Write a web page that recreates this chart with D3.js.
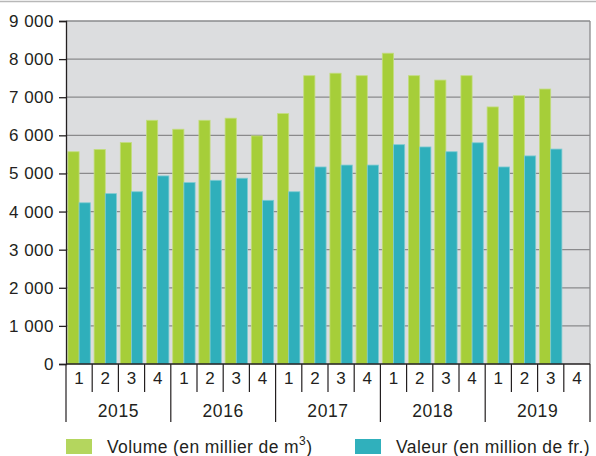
<!DOCTYPE html>
<html>
<head>
<meta charset="utf-8">
<script src="https://cdn.jsdelivr.net/npm/d3@7"></script>
<style>
  body { margin: 0; background: #fff; }
  text { font-family: "Liberation Sans", Arial, sans-serif; fill: #231f20; }
</style>
</head>
<body>
<svg id="chart"></svg>
<script>
const width = 596;
const height = 456;

const years = ['2015', '2016', '2017', '2018', '2019'];
const quarters = ['1', '2', '3', '4'];
const volume = [5570, 5630, 5810, 6395, 6160, 6395, 6450, 5985, 6570, 7565,
                7630, 7565, 8155, 7565, 7450, 7565, 6745, 7040, 7215, null];
const valeur = [4230, 4470, 4520, 4935, 4760, 4820, 4875, 4295, 4520, 5170,
                5220, 5220, 5755, 5695, 5570, 5805, 5170, 5460, 5640, null];
const yTicks = [0, 1000, 2000, 3000, 4000, 5000, 6000, 7000, 8000, 9000];
const legendLabels = ['Volume (en millier de m', 'Valeur (en million de fr.)'];

const green = '#a6ce39';
const teal = '#2fafbb';

const margin = {top: 21, right: 6, bottom: 92, left: 66};
const plotW = width - margin.left - margin.right;
const plotH = height - margin.top - margin.bottom;

const svg = d3.select('#chart')
    .attr('width', width)
    .attr('height', height);

// periods like "2015-1"
const periods = [];
years.forEach(y => quarters.forEach(q => periods.push(y + '-' + q)));

const x = d3.scaleBand()
    .domain(periods)
    .range([margin.left, margin.left + plotW]);
const inner = d3.scaleBand()
    .domain(['vol', 'val'])
    .range([0, x.bandwidth()])
    .paddingOuter(0.17);
const y = d3.scaleLinear()
    .domain([0, 9000])
    .range([margin.top + plotH, margin.top]);

// thin separator at the very top
svg.append('line')
    .attr('x1', 0).attr('x2', width)
    .attr('y1', 1.5).attr('y2', 1.5)
    .attr('stroke', '#b8b8b8')
    .attr('stroke-width', 1.5);

// plot background
svg.append('rect')
    .attr('x', margin.left)
    .attr('y', margin.top)
    .attr('width', plotW)
    .attr('height', plotH)
    .attr('fill', '#dcdddf');

// gridlines
svg.append('g')
  .selectAll('line')
  .data(yTicks.slice(1))
  .enter()
  .append('line')
    .attr('x1', margin.left)
    .attr('x2', margin.left + plotW)
    .attr('y1', d => y(d))
    .attr('y2', d => y(d))
    .attr('stroke', '#8a8a8c')
    .attr('stroke-width', 1.3);

// right border
svg.append('line')
    .attr('x1', margin.left + plotW).attr('x2', margin.left + plotW)
    .attr('y1', margin.top).attr('y2', margin.top + plotH)
    .attr('stroke', '#8a8a8c')
    .attr('stroke-width', 1.3);

// bars
const rows = periods.map((p, i) => ({p, vol: volume[i], val: valeur[i]}));
const groups = svg.append('g')
  .selectAll('g')
  .data(rows)
  .enter()
  .append('g')
    .attr('transform', d => `translate(${x(d.p)},0)`);

groups.filter(d => d.vol != null)
  .append('rect')
    .attr('x', inner('vol'))
    .attr('width', inner.bandwidth())
    .attr('y', d => y(d.vol))
    .attr('height', d => y(0) - y(d.vol))
    .attr('fill', green)
    .attr('stroke', '#c3dd7e')
    .attr('stroke-width', 0.8);

groups.filter(d => d.val != null)
  .append('rect')
    .attr('x', inner('val'))
    .attr('width', inner.bandwidth())
    .attr('y', d => y(d.val))
    .attr('height', d => y(0) - y(d.val))
    .attr('fill', teal)
    .attr('stroke', '#7fcbd2')
    .attr('stroke-width', 0.8);

// y axis
const yAxis = svg.append('g')
    .attr('transform', `translate(${margin.left},0)`)
    .call(d3.axisLeft(y)
      .tickValues(yTicks)
      .tickSize(7)
      .tickPadding(5)
      .tickFormat(d => d3.format(',')(d).replace(',', ' ')));
yAxis.select('.domain').attr('stroke', '#231f20').attr('stroke-width', 1.3);
yAxis.selectAll('.tick line').attr('stroke', '#231f20').attr('stroke-width', 1.3);
yAxis.selectAll('.tick text')
    .attr('font-size', 17)
    .attr('letter-spacing', 0.5)
    .attr('font-family', '"Liberation Sans", Arial, sans-serif')
    .attr('fill', '#231f20');

// x axis: baseline
const base = y(0);
svg.append('line')
    .attr('x1', margin.left).attr('x2', margin.left + plotW)
    .attr('y1', base).attr('y2', base)
    .attr('stroke', '#231f20')
    .attr('stroke-width', 1.3);

// quarter separators and labels
const sepX = periods.map(p => x(p)).concat([margin.left + plotW]);
svg.append('g')
  .selectAll('line')
  .data(sepX)
  .enter()
  .append('line')
    .attr('x1', d => d).attr('x2', d => d)
    .attr('y1', base)
    .attr('y2', (d, i) => i % 4 === 0 ? base + 58 : base + 28)
    .attr('stroke', '#231f20')
    .attr('stroke-width', 1.2);

svg.append('g')
  .selectAll('text')
  .data(periods)
  .enter()
  .append('text')
    .attr('x', d => x(d) + x.bandwidth() / 2)
    .attr('y', base + 20)
    .attr('text-anchor', 'middle')
    .attr('font-size', 17)
    .text(d => d.split('-')[1]);

svg.append('g')
  .selectAll('text')
  .data(years)
  .enter()
  .append('text')
    .attr('x', d => (x(d + '-1') + x(d + '-4') + x.bandwidth()) / 2)
    .attr('y', base + 53)
    .attr('text-anchor', 'middle')
    .attr('font-size', 17.5)
    .attr('letter-spacing', 0.6)
    .text(d => d);

// legend
const legend = svg.append('g');
const legendX = [66, 355];
const legendColors = ['#b4d65e', '#30b0bc'];
legendLabels.forEach((lab, i) => {
  legend.append('rect')
    .attr('x', legendX[i])
    .attr('y', 439)
    .attr('width', 26)
    .attr('height', 15)
    .attr('fill', legendColors[i]);
  const t = legend.append('text')
    .attr('x', legendX[i] + 41)
    .attr('y', 453)
    .attr('font-size', 17.5)
    .attr('letter-spacing', 0.4)
    .text(lab);
  if (i === 0) {
    t.append('tspan').attr('dy', -8).attr('font-size', 12).text('3');
    t.append('tspan').attr('dy', 8).text(')');
  }
});
</script>
</body>
</html>
